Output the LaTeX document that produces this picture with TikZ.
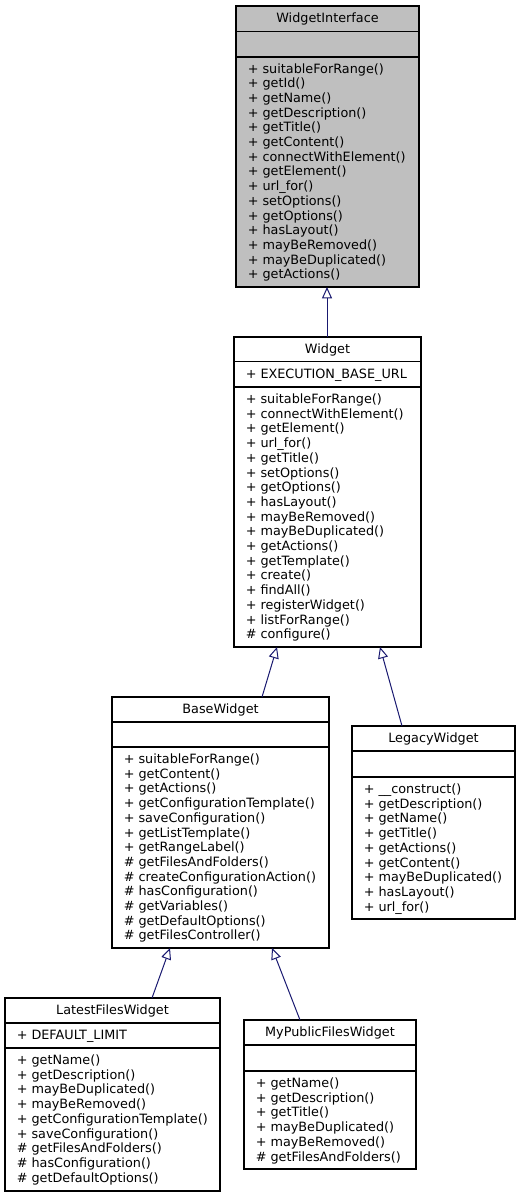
\documentclass[tikz,border=0pt]{standalone}
\usepackage{fontspec}
\setmainfont{DejaVu Sans}
\usetikzlibrary{arrows.meta,calc}
\definecolor{edgeblue}{HTML}{191970}
\definecolor{ifgray}{HTML}{BFBFBF}
\newcommand\umlbox[8]{%
  \node[cls,#8,minimum width={(#4-#2)*0.75pt},minimum height={(#5-#3)*0.75pt}] (#1) at ({(#2+#4)/2},{(#3+#5)/2}) {};
  \draw[sep] (#2,#6) -- (#4,#6);
  \draw[sep] (#2,#7) -- (#4,#7);
}
\newcommand\members[3]{%
  \foreach \t [count=\i from 0] in {#3} \node[mem] at (#1,{#2+\i*14.7}) {\t};
}
\begin{document}
\begin{tikzpicture}[x=0.75pt,y=-0.75pt,
  every node/.style={font=\fontsize{9.6}{11}\selectfont},
  cls/.style={draw=black,line width=0.95pt,rectangle,inner sep=0pt,outer sep=0pt,fill=white},
  sep/.style={draw=black,line width=0.95pt},
  mem/.style={anchor=base west,inner sep=0pt},
  ttl/.style={anchor=base,inner sep=0pt},
  inherit/.style={draw=edgeblue,line width=0.75pt,-{Triangle[open,length=8.5pt,width=7.5pt]}}]
\useasboundingbox (0,0) rectangle (521,1197);
% WidgetInterface
\umlbox{wi}{236}{6}{419}{287}{31.5}{57}{fill=ifgray}
\node[ttl] (wit) at (327.5,22.5) {WidgetInterface};
\members{247.5}{73}{+ suitableForRange(),+ getId(),+ getName(),+ getDescription(),+ getTitle(),+ getContent(),+ connectWithElement(),+ getElement(),+ url\_for(),+ setOptions(),+ getOptions(),+ hasLayout(),+ mayBeRemoved(),+ mayBeDuplicated(),+ getActions()}
% Widget
\umlbox{w}{234}{337}{421}{647}{361.5}{387}{}
\node[ttl] (wt) at (327.5,353.5) {Widget};
\node[mem] (wa) at (245.5,378) {+ EXECUTION\_BASE\_URL};
\members{245.5}{403.5}{+ suitableForRange(),+ connectWithElement(),+ getElement(),+ url\_for(),+ getTitle(),+ setOptions(),+ getOptions(),+ hasLayout(),+ mayBeRemoved(),+ mayBeDuplicated(),+ getActions(),+ getTemplate(),+ create(),+ findAll(),+ registerWidget(),+ listForRange(),\# configure()}
% BaseWidget
\umlbox{bw}{112}{697}{329}{948}{722}{747}{}
\node[ttl] (bwt) at (220.5,713.5) {BaseWidget};
\members{123.5}{763.5}{+ suitableForRange(),+ getContent(),+ getActions(),+ getConfigurationTemplate(),+ saveConfiguration(),+ getListTemplate(),+ getRangeLabel(),\# getFilesAndFolders(),\# createConfigurationAction(),\# hasConfiguration(),\# getVariables(),\# getDefaultOptions(),\# getFilesController()}
% LegacyWidget
\umlbox{lw}{352}{726}{515}{919}{751}{777}{}
\node[ttl] (lwt) at (433.5,742.5) {LegacyWidget};
\members{363.5}{793.5}{+ \_\_construct(),+ getDescription(),+ getName(),+ getTitle(),+ getActions(),+ getContent(),+ mayBeDuplicated(),+ hasLayout(),+ url\_for()}
% LatestFilesWidget
\umlbox{lfw}{5}{998}{220}{1191}{1023}{1048}{}
\node[ttl] (lfwt) at (112.5,1014.5) {LatestFilesWidget};
\node[mem] (lfwa) at (16.5,1039.5) {+ DEFAULT\_LIMIT};
\members{16.5}{1064.5}{+ getName(),+ getDescription(),+ mayBeDuplicated(),+ mayBeRemoved(),+ getConfigurationTemplate(),+ saveConfiguration(),\# getFilesAndFolders(),\# hasConfiguration(),\# getDefaultOptions()}
% MyPublicFilesWidget
\umlbox{mp}{244}{1020}{416}{1169}{1045}{1071}{}
\node[ttl] (mpt) at (330,1036.5) {MyPublicFilesWidget};
\members{255.5}{1087.5}{+ getName(),+ getDescription(),+ getTitle(),+ mayBeDuplicated(),+ mayBeRemoved(),\# getFilesAndFolders()}
% inheritance
\draw[inherit] ($(w.north west)+(93,0)$) -- ($(wi.south west)+(91,0)$);
\draw[inherit] ($(bw.north west)+(150,0)$) -- ($(w.south west)+(43,0)$);
\draw[inherit] ($(lw.north west)+(50,0)$) -- ($(w.south west)+(146,0)$);
\draw[inherit] ($(lfw.north west)+(147,0)$) -- ($(bw.south west)+(58,0)$);
\draw[inherit] ($(mp.north west)+(56,0)$) -- ($(bw.south west)+(160,0)$);
\end{tikzpicture}
\end{document}
